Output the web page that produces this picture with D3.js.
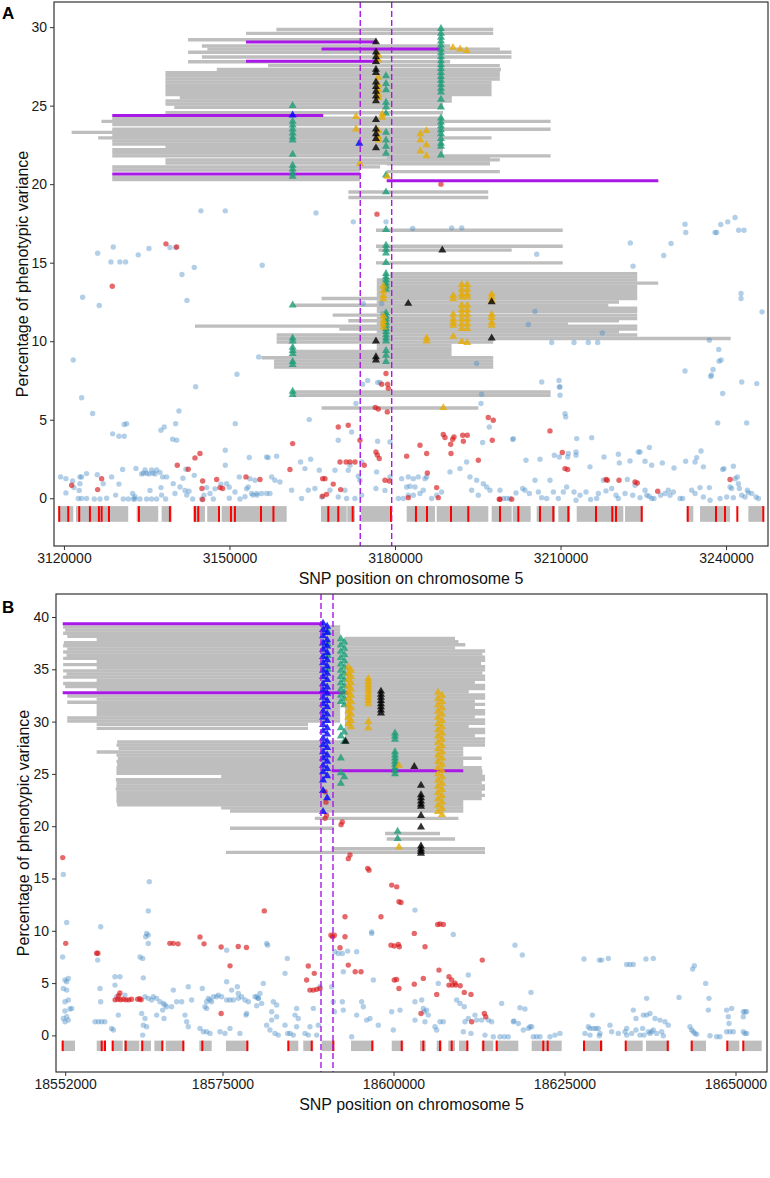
<!DOCTYPE html>
<html><head><meta charset="utf-8">
<script src="https://cdn.jsdelivr.net/npm/d3@7"></script>
<style>body{margin:0;background:#fff}text{font-family:"Liberation Sans",Arial,Helvetica,sans-serif}</style>
</head><body><script>
// ================= PANEL A DATA =================
const aXTicks=[3120000,3150000,3180000,3210000,3240000];
const aYTicks=[0,5,10,15,20,25,30];
const aDashed=[3173700,3179400];
// gray haplotype segments [start,end,pve]
const aSegs=[
[3158500,3197800,29.85],[3153000,3197800,29.6],[3142500,3176500,29.2],[3145000,3190000,28.8],[3146000,3199000,28.6],
[3142500,3201100,28.4],[3145000,3201100,28.1],[3142500,3190000,27.8],[3157000,3199000,27.55],[3147700,3199200,27.3],
[3138400,3199000,27.1],[3138400,3199000,26.9],[3138400,3199000,26.7],[3138400,3197500,26.5],[3138400,3197500,26.3],
[3138400,3197500,26.1],[3138400,3197500,25.9],[3138400,3197500,25.7],[3141000,3190300,25.5],[3138400,3190300,25.3],
[3138400,3188700,25.1],[3140000,3188700,24.9],[3138400,3188700,24.55],[3128760,3188700,24.2],[3126800,3208200,24.0],
[3128760,3188700,23.8],[3128760,3208200,23.5],[3121400,3188700,23.3],[3128760,3188700,23.1],[3126200,3197500,22.95],
[3128760,3188700,22.75],[3128760,3188700,22.55],[3138400,3188700,22.4],[3128760,3188700,22.2],[3128760,3188700,22.0],
[3128760,3208200,21.8],[3138400,3199000,21.55],[3138400,3197200,21.35],[3128760,3177300,21.1],[3128760,3173650,20.9],
[3128760,3173650,20.45],[3128760,3173650,20.3],[3178500,3197200,21.7],[3178500,3197200,21.3],[3178500,3199000,20.8],
[3171550,3196900,19.5],[3171550,3196900,19.15],[3176550,3210400,17.07],[3176550,3210400,16.05],[3177000,3201150,15.8],
[3176550,3210400,14.99],[3179100,3223900,14.3],[3179100,3223900,14.1],[3176700,3223900,13.9],[3176700,3227700,13.7],
[3176700,3223900,13.5],[3176700,3223900,13.3],[3176700,3223900,13.1],[3176700,3223900,12.9],[3166700,3223900,12.72],
[3176700,3220600,12.5],[3161570,3218660,12.29],[3176700,3223900,12.1],[3176700,3223900,11.9],[3168700,3223900,11.66],
[3176700,3223900,11.45],[3171530,3220600,11.3],[3176700,3211350,11.1],[3143750,3223900,10.96],[3169900,3223900,10.78],
[3176700,3220600,10.6],[3158550,3223900,10.4],[3158550,3240840,10.17],[3158550,3197800,9.95],[3176700,3190250,9.75],
[3176700,3190250,9.55],[3161270,3190250,9.35],[3161270,3190250,9.15],[3155800,3197800,8.95],[3158070,3197800,8.75],
[3158070,3197800,8.55],[3158070,3197800,8.35],[3161570,3208200,6.77],[3161570,3208200,6.56],[3166700,3195100,5.75]
];
const aMagenta=[[3153000,3176700,29.05],[3166700,3188150,28.6],[3153000,3176700,27.83],[3128760,3167000,24.38],[3128760,3173650,20.64],[3178490,3227720,20.21]];
const aBlue=[
[3144830,18.3],[3149240,18.3],[3126110,15.6],[3128940,16.0],[3128520,15.05],[3130150,15.05],[3131180,15.05],[3133470,15.5],[3135410,15.9],[3139210,15.97],[3140250,15.97],[3141390,14.25],[3143620,14.7],[3142300,12.6],[3123390,12.8],[3126400,12.27],[3121690,8.8],[3155300,9.0],[3151360,7.9],[3143870,7.1],
[3123210,6.4],[3125200,5.4],[3128830,4.1],[3129970,3.95],[3130930,3.95],[3130930,4.7],[3131360,4.75],[3137580,4.33],[3138180,4.54],[3140250,4.75],[3139700,3.76],[3140430,3.7],[3140840,5.56],[3151050,4.75],[3149240,3.06],[3149240,2.1],
[3134080,1.55],[3134700,1.8],[3135410,1.55],[3135900,1.8],[3136500,1.55],[3136800,1.8],[3137400,1.65],[3134400,1.6],[3135000,1.6],[3136100,1.6],
[3119400,1.36],[3120360,1.25],[3120360,0.34],[3121570,1.1],[3121810,0.68],[3122900,1.36],[3123200,1.36],[3122900,0.93],[3122770,0.5],[3122600,-0.02],[3123200,-0.02],[3124110,1.57],[3124110,-0.02],[3125500,-0.05],[3126530,-0.05],[3126040,1.5],[3127120,0.93],[3127740,0],[3128640,1.36],[3129370,0.2],[3129970,0.9],[3130630,1.83],[3130750,-0.05],[3131660,-0.05],[3132570,-0.05],[3132870,-0.05],[3133050,1.9],[3132450,0.3],[3132870,0.1],[3133780,-0.05],[3134990,-0.05],[3135890,-0.05],[3136800,-0.05],[3135590,0.5],[3137580,0.68],[3137890,1.36],[3138610,1.36],[3137700,0.2],[3138430,-0.05],[3139810,0.93],[3140120,0.3],[3141030,0.72],[3141570,1.27],[3142110,1.85],[3141930,0.5],[3142250,0.2],[3142660,0.45],[3143330,-0.05],[3143620,1.46],[3144960,-0.05],[3145380,0.2],[3145870,0.68],[3146470,0.3],[3147070,-0.05],[3147370,0.6],[3148460,0.9],[3149490,0.93],[3149970,0.7],[3149970,0],[3151000,0.4],[3151780,1.36],[3151900,-0.05],[3152810,0.1],[3153100,0.6],[3153400,0.72],[3153590,2.6],[3154260,0.2],[3154990,0.2],
[3165680,18.17],[3172440,17.6],[3178370,17.6],[3183200,17.18],[3190270,17.22],[3192090,17.22],[3155940,14.84],[3174250,12.4],[3177590,12.4],[3177770,11.76],[3194800,8.58],[3175050,7.5],[3174140,7.26],[3176860,7.37],[3177280,7.37],
[3205680,15.54],[3222650,16.26],[3223140,14.78],[3230030,16.22],[3228700,15.46],[3232560,17.45],[3232690,16.92],[3239030,17.43],[3240300,17.6],[3241630,17.88],[3238000,16.92],[3238300,16.92],[3242290,17.07],[3243260,17.07],[3242710,13.04],[3242710,12.72],[3246520,11.87],[3205370,11.9],[3204160,11.06],[3217570,10.53],[3208400,9.92],[3212440,9.92],[3215030,9.92],[3216730,9.92],[3236970,10.06],[3238670,9.47],[3238730,8.73],[3239100,8.8],[3237640,8.2],[3237340,7.85],[3237220,7.75],[3232560,8.1],[3206590,7.4],[3209720,7.5],[3209900,7.09],[3242840,7.4],[3245560,7.3],
[3195700,6.62],[3195580,6.03],[3164460,5.01],[3172920,6.03],[3169720,3.69],[3172140,4.22],[3176850,3.63],[3179090,3.59],[3197090,4.54],[3195880,3.55],[3157030,2.59],[3158540,2.68],[3162890,2.31],[3164710,2.48],[3166280,1.78],[3163680,1.89],[3169120,1.78],[3171840,2.1],[3171530,1.78],[3173950,2.31],[3173350,1.4],[3173650,1.15],[3176670,1.68],[3176550,0.62],[3178180,0.5],[3179090,1.36],
[3181200,1.25],[3182410,1.36],[3183320,1.25],[3184220,1.36],[3185430,1.25],[3185730,1.36],[3182110,0.72],[3182710,0.76],[3183620,0.72],[3180600,-0.02],[3181500,-0.02],[3182410,0.19],[3183320,0.19],[3184520,0.3],[3185130,0.51],[3186640,-0.02],[3187550,0.19],[3188450,0.4],[3189960,1.68],[3191770,1.89],[3192980,2.31],[3193590,1.36],[3193890,0.51],[3194800,1.15],[3195100,0.19],[3196000,0.93],[3196610,0.72],[3197210,0.51],
[3153710,1.25],[3154620,1.15],[3154010,0.3],[3154920,0.3],[3155820,0.3],[3156730,0.3],[3157340,0.3],[3156730,2.63],[3157640,1.36],[3158240,1.15],[3159150,1.04],[3161260,0.51],[3163070,-0.02],[3164280,0.51],[3165490,0.62],[3166700,0.08],[3168210,0.51],[3169720,0.08],[3170930,0.51],[3171230,-0.02],[3172740,-0.02],[3173950,0.19],
[3209780,7.09],[3209910,6.56],[3210810,5.39],[3210930,5.18],[3201450,3.8],[3201330,3.74],[3215650,3.86],[3212930,3.8],[3208880,2.74],[3209780,2.63],[3203740,2.42],[3206280,2.48],[3212810,2.95],[3212810,2.74],[3211420,2.85],[3211300,2.63],[3215340,2.0],[3217880,2.63],[3220480,2.8],[3220660,2.25],[3222590,2.38],[3224100,2.95],[3224410,2.95],[3226100,3.23],[3225310,2.36],[3226520,2.1],[3228450,2.25],[3230570,1.93],[3232680,2.36],[3234380,2.31],[3234680,2.59],[3235460,3.01],[3235890,2.0],[3236970,0.68],[3238480,4.8],[3239390,6.67],[3243740,4.8],[3239390,1.83],[3239630,1.89],[3241320,2.04],[3241630,1.25],[3242050,1.36],[3242230,0.93],[3242410,0.62],[3240720,0.72],[3241020,0.62],[3243860,0.51],[3244040,0.36],[3245860,-0.02],
[3199030,0.51],[3199630,-0.02],[3200240,-0.02],[3200840,-0.02],[3201930,0.34],[3203140,0.62],[3203560,0.51],[3204350,0.3],[3205370,1.15],[3205980,0.4],[3206580,0.04],[3207490,-0.02],[3208090,1.15],[3208700,0.4],[3209600,-0.02],[3210510,0.4],[3211110,0.72],[3212440,0.4],[3212810,-0.13],[3213530,0.19],[3214620,0.4],[3215460,-0.08],[3216550,-0.02],[3216850,0.3],[3217760,1.15],[3218240,0.47],[3219270,0.62],[3220060,0.19],[3220480,-0.02],[3221690,0.3],[3222110,1.19],[3223080,0.19],[3223500,0.83],[3224410,0.04],[3225310,0.51],[3225620,0.19],[3226040,0.13],[3226520,-0.02],[3226940,-0.02],[3228150,0.19],[3228940,0.3],[3229540,0.51],[3229840,0.19],[3230450,0.4],[3231660,-0.02],[3232140,-0.02],[3233770,0.51],[3234380,0.3],[3235280,0.68],[3235890,0.08],[3237090,-0.13],[3238910,-0.02],[3240120,0.08],[3241320,0.04],[3242830,0.19],[3243440,0.08],[3244640,0.3],[3245430,0.08]
];
const aRed=[
[3128760,13.5],[3138490,16.2],[3140430,16.0],[3121400,0.83],[3126830,1.25],[3126110,0.55],[3140540,2.1],[3142530,1.85],[3143750,2.57],[3144650,2.85],[3145140,1.1],[3145010,0.62],[3145140,-0.08],[3147680,1.19],[3148280,0.68],[3148760,0.62],[3152990,1.36],[3155530,1.19],
[3176730,18.09],[3178370,7.94],[3177590,7.26],[3178670,7.26],[3178790,7.0],[3188330,20.0],
[3160960,1.83],[3161450,3.48],[3169720,4.54],[3171530,4.65],[3173650,3.69],[3170030,2.31],[3171130,2.31],[3171840,2.31],[3172750,2.31],[3174430,2.1],[3166890,1.25],[3167310,1.25],[3168810,0.9],[3170150,0.55],[3166890,0.13],[3167590,0.25],[3176550,2.95],[3176800,2.75],[3177150,2.53],[3176430,5.78],[3176970,5.68],[3178600,5.5],[3178180,1.15],[3178960,1.1],[3182110,2.68],[3182410,0.04],[3184530,3.38],[3185740,2.85],[3185860,1.61],[3187550,0.68],[3187850,0.04],[3188750,4.06],[3189060,3.87],[3190150,2.85],[3190090,3.44],[3190450,3.76],[3190690,3.9],[3192270,4.01],[3193100,4.01],[3192390,3.63],[3195100,2.42],[3196910,5.14],[3197810,4.97],[3197630,3.69],[3198900,-0.06],
[3208090,4.29],[3210320,2.91],[3210810,1.89],[3211290,1.83],[3218240,1.19],[3218480,1.15],[3220600,1.15],[3223500,1.04],[3223910,0.97],[3227610,0.45],[3240720,1.19],[3201150,-0.06],[3199030,-0.06]
];
// triangle columns: [position, [pve...]]
const aTriGreen=[
[3188330,[29.9,29.6,29.35,29.1,28.85,28.6,28.35,28.1,27.85,27.6,27.35,27.1,26.85,26.6,26.35,26.1,25.85,25.4,24.9,24.2,23.95,23.7,23.45,23.2,22.9,22.6,22.4,21.85]],
[3161450,[25.0,24.0,23.75,23.5,23.25,23.0,22.8,21.9,21.2,20.95,20.7,20.5,12.3,10.2,10.0,9.6,9.4,9.2,8.7,8.5,6.8,6.6]],
[3178370,[26.9,26.4,26.0,25.2,24.9,24.5,23.3,22.8,22.4,21.96,20.57,19.5,17.1,16.1,15.85,15.6,15.0,14.3,14.1,13.9,13.7,13.5,13.3,11.8,11.6,11.4,11.2,11.0,10.8,10.6,10.4,10.2,10.0,9.4,9.1,8.7]]
];
const aTriBlack=[
[3176550,[29.05,28.4,28.1,27.8,27.3,27.1,26.5,26.2,25.9,25.6,25.3,24.1,23.5,23.2,22.9,22.3,10.0,9.0,8.8]],
[3182400,[12.4]],[3188570,[15.8]],[3197520,[12.5,10.2]]
];
const aTriYellow=[
[3177000,[28.2,27.9,26.8,26.3,26.0,25.7,25.5,23.4,23.0,22.8]],
[3177900,[13.5,13.2,12.9,12.7,11.6,11.3,11.1,10.9]],
[3190560,[12.9,12.7,11.7,11.4,11.2,11.0,10.3]],
[3192100,[13.6,13.3,13.0,12.8,12.3,12.0,11.7,11.4,11.1,10.8,9.97]],
[3193100,[13.6,13.3,13.0,12.8,12.3,12.0,11.7,11.4,11.1,10.8,9.9]],
[3197520,[13.0,12.8,12.6,11.7,11.5,11.2,11.0]],
[3185740,[10.2,10.0]],[3172930,[24.3,23.5]],[3177700,[24.45,24.25]],[3184600,[23.2,22.8,22.1]],[3185700,[23.4,22.5,21.8]],
[3190500,[28.7]],[3191800,[28.6]],[3193000,[28.5]],[3178600,[20.5]],[3173650,[21.3]],[3188750,[5.76]]
];
const aTriBlue=[[3173530,[22.6]],[3161450,[24.4]]];
const aGenes=[[3118970,3121690],[3122180,3131650],[3133180,3137090],[3137710,3139520],[3143440,3145560],[3145970,3148280],[3148590,3160370],[3166580,3171240],[3171350,3172750],[3173830,3179400],[3182120,3187250],[3187560,3196910],[3197520,3201150],[3201330,3204590],[3205680,3209000],[3209600,3211720],[3212930,3221380],[3221690,3224900],[3232870,3234070],[3235280,3240720],[3244040,3246880]];
const aExons=[3119150,3120780,3122770,3124710,3126340,3126830,3128160,3133590,3139210,3143740,3144340,3148100,3150270,3150990,3155710,3157970,3167910,3169720,3172330,3179270,3183800,3185800,3190150,3193280,3199030,3202350,3206280,3208690,3211410,3216430,3219380,3220050,3224710,3233050,3238180,3239810,3242040,3246750];

// ================= PANEL B DATA =================
const bXTicks=[18552000,18575000,18600000,18625000,18650000];
const bYTicks=[0,5,10,15,20,25,30,35,40];
const bDashed=[18589400,18591155];
const bSegs=[
[18551700,18592200,39.05],[18552000,18592200,38.75],[18551700,18592200,38.45],[18552300,18592200,38.15],[18556600,18592200,37.85],
[18551800,18592200,37.55],[18551700,18592200,37.25],[18552300,18592200,36.95],[18551700,18592200,36.65],[18552200,18592200,36.35],
[18551700,18592200,36.05],[18556600,18592200,35.75],[18551700,18592200,35.45],[18556600,18592200,35.15],[18551700,18592200,34.85],
[18552200,18592200,34.55],[18551700,18592200,34.25],[18556600,18592200,33.95],[18551700,18592200,33.65],[18552000,18592200,33.35],
[18556600,18592200,33.05],[18552300,18592200,32.45],[18556600,18592200,32.15],[18552300,18592200,31.85],[18556600,18592200,31.55],
[18556600,18592200,31.25],[18556600,18592200,30.95],[18556600,18592200,30.65],[18552300,18592200,30.35],[18552300,18592200,30.05],
[18556600,18587500,29.75],[18556600,18587500,29.35],
[18559600,18613380,28.05],[18559500,18613380,27.75],[18559800,18610200,27.45],[18556600,18610200,27.1],[18559500,18610200,26.8],
[18559700,18612900,26.5],[18559500,18610200,26.2],[18559600,18610200,25.9],[18559500,18612900,25.6],[18559500,18613000,25.3],
[18559500,18613000,25.05],[18574800,18613380,24.75],[18559400,18613380,24.45],[18559500,18612900,24.15],[18559500,18613380,23.85],
[18559400,18613380,23.55],[18559500,18612900,23.25],[18559500,18613380,22.95],[18559500,18612900,22.65],[18559500,18610200,22.35],
[18559600,18610200,22.05],[18574800,18610200,21.75],[18576100,18610200,21.45],[18588500,18609500,20.75],[18576100,18591300,19.8],
[18598760,18606800,19.3],[18599000,18609000,18.77],[18590960,18613380,17.85],[18575500,18613380,17.5],
[18592900,18608990,37.95],[18592900,18609500,37.65],[18592900,18610500,37.35],[18592900,18609000,37.05],[18592900,18613400,36.75],
[18592900,18613000,36.45],[18592900,18613400,36.15],[18592900,18613400,35.85],[18592900,18612800,35.55],[18592900,18613400,35.25],
[18592900,18613400,34.95],[18592900,18613000,34.65],[18592900,18613400,34.35],[18592900,18613400,34.05],[18592900,18611900,33.75],
[18592900,18613400,33.45],[18592900,18613400,33.15],[18592900,18611000,32.85],[18592900,18613400,32.55],[18592900,18613400,32.25],
[18592900,18611900,31.95],[18592900,18613400,31.65],[18592900,18611900,31.35],[18592900,18613400,31.05],[18592900,18613400,30.75],
[18592900,18611900,30.45],[18592900,18613400,30.15],[18592900,18613400,29.85],[18592900,18611000,29.55],[18592900,18613400,29.25],
[18592900,18613400,28.95],[18592900,18611900,28.65],[18592900,18613400,28.35]
];
const bMagenta=[[18551640,18589740,39.35],[18551640,18593390,32.75],[18590960,18610200,25.3]];
const bBlue=[
[18551730,15.39],[18552220,10.8],[18551630,7.5],[18551970,5.29],[18552460,5.45],[18552220,5.13],[18551730,4.49],[18552220,4.33],[18551970,3.22],[18552950,2.58],[18552460,3.38],[18552700,2.52],[18551970,2.33],[18552220,1.78],[18551730,1.62],[18551970,1.3],[18552460,1.46],
[18557190,10.38],[18556750,7.2],[18557090,4.49],[18557190,3.22],[18556360,1.3],[18556850,1.3],[18557330,1.3],[18557800,1.3],
[18559280,4.81],[18559280,5.6],[18560010,5.6],[18559770,1.94],[18558790,0.67],[18559040,0.51],[18559530,3.69],[18560740,3.85],[18563420,5.5],[18562940,7.5],[18563330,7.36],[18564300,14.7],[18564150,11.9],[18563910,9.75],[18564150,9.59],[18563770,9.43],[18564150,8.79],[18563670,3.69],[18564150,3.54],[18564640,3.38],[18563180,2.1],[18563420,0.98],[18563910,0.83],[18563670,1.62],[18563330,0.03],
[18564890,3.69],[18565370,3.54],[18565860,3.22],[18566350,3.06],[18566590,2.9],[18565370,1.94],[18566250,2.42],[18566450,1.62],[18566840,2.74],[18567810,4.33],[18568300,3.22],[18569030,3.22],[18567570,2.74],[18569520,1.94],[18569760,1.3],[18570000,0.83],[18570000,4.65],[18570490,3.38],[18572050,4.49],[18571710,0.67],[18572200,0.35],[18572680,0.35],[18573170,0.19],[18572680,3.22],[18572930,3.54],[18573170,3.38],[18573410,3.22],[18572440,2.74],[18572680,2.58],[18573660,3.69],[18574140,3.69],
[18574390,3.85],[18574880,3.69],[18575610,3.38],[18576090,3.38],[18576580,3.38],[18577310,3.54],[18577800,3.69],[18578290,3.38],[18578780,3.22],[18575610,8.15],[18575610,5.13],[18576340,4.33],[18577170,4.65],[18577310,4.01],[18574630,0.35],[18575360,0.19],[18576090,0.67],[18577550,0.19],[18578530,2.1],[18578430,1.94],[18580000,3.69],[18580240,3.54],
[18603140,11.98],[18596810,9.9],[18596810,9.75],[18581460,8.79],[18581600,8.63],[18608740,9.65],[18617760,8.63],[18591450,7.99],[18591930,7.83],[18592520,7.83],[18593300,8.06],[18594610,7.99],[18584480,7.36],[18584140,5.93],[18592660,6.08],[18597050,5.29],[18606550,4.97],[18610940,5.77],[18589250,4.65],[18590960,4.65],
[18580970,4.97],[18580480,4.01],[18580240,3.54],[18579750,3.69],[18580720,3.06],[18579990,2.83],[18582430,3.22],[18582920,2.9],[18582190,2.26],[18582920,1.78],[18582190,1.46],[18581460,0.98],[18581940,0.51],[18582670,0.19],[18583160,0.03],[18584140,0.98],[18584530,0.19],[18584870,0.19],[18585350,0.03],[18585600,1.94],[18585840,2.58],[18586080,1.62],[18585840,0.83],[18587060,0.19],[18587550,0.03],[18587790,0.83],[18588280,2.58],[18589010,0.98],[18588770,0.03],
[18591200,3.22],[18592520,3.22],[18591350,2.26],[18592660,2.42],[18593880,-0.13],[18595340,3.22],[18595590,2.74],[18594610,1.94],[18596070,1.46],[18596560,1.62],[18597780,0.98],[18599730,2.26],[18600950,2.42],[18599970,0.51],
[18603140,3.22],[18604120,3.38],[18604360,2.58],[18604500,2.26],[18604840,2.42],[18605090,1.94],[18603140,1.46],[18604600,1.3],[18606060,0.83],[18606310,0.51],[18606800,1.3],[18607280,1.3],
[18609230,3.38],[18609720,3.06],[18610350,2.74],[18610450,1.3],[18610940,1.62],[18611910,1.94],[18612160,1.46],[18612890,1.46],[18613860,1.46],[18614350,1.3],[18610210,0.35],[18611330,0.19],[18613370,0.03],[18614590,-0.13],[18615570,-0.13],[18616200,-0.13],[18616780,-0.13],[18615810,3.06],[18617520,1.3],
[18618830,7.68],[18627850,7.3],[18630090,7.2],[18630430,7.2],[18631410,7.36],[18634090,6.78],[18634570,6.78],[18635060,6.78],[18636910,7.3],[18637980,7.36],[18643980,6.66],[18643730,6.34],[18645640,4.97],[18646120,3.54],[18646020,2.42],[18620100,4.11],[18641740,3.63],[18637010,3.54],[18618490,2.64],[18619220,2.52],
[18617610,1.37],[18618250,1.14],[18618980,0.51],[18619710,0.67],[18619950,0.83],[18620200,0.83],[18620440,-0.13],[18620930,-0.13],[18621420,-0.13],[18622880,-0.13],[18623610,0.03],[18624340,0.19],[18629070,1.94],[18628480,0.83],[18628730,0.67],[18629210,0.67],[18629600,0.67],[18629940,0.67],[18627990,0.19],[18628730,0.03],[18630190,0.19],[18630090,-0.03],
[18631650,0.98],[18631890,0.35],[18632870,0.19],[18633840,0.35],[18634090,0.03],[18634820,0.19],[18635450,0.51],[18636030,0.03],[18636420,0.67],[18636620,0.03],[18637250,0.35],[18637500,0.19],[18637740,0.35],[18637980,0.51],[18638470,0.19],[18639200,0.35],[18639450,-0.03],[18640180,0.98],[18639690,1.3],[18638960,1.46],[18638230,1.62],[18637500,2.1],[18637010,1.94],[18636520,1.94],[18635450,1.62],[18635060,2.42],[18634090,0.67],
[18643340,0.83],[18643590,0.51],[18643830,0.35],[18644080,0.19],[18644320,0.1],[18646270,-0.03],[18647240,-0.13],[18647730,-0.13],[18648700,2.42],[18649440,2.58],[18648950,1.78],[18649050,1.14],[18648700,0.35],[18649190,0.35],[18649680,0.35],[18651140,2.26],[18651380,2.26],[18651630,2.26],[18651140,1.78],[18651140,0.35],[18651380,0.19],[18651630,0.19]
];
const bRed=[
[18551640,17.0],[18552080,8.8],[18556600,7.85],[18556780,7.85],
[18559300,3.4],[18559700,3.45],[18560100,3.4],[18560500,3.45],[18560900,3.4],[18561300,3.4],[18561700,3.45],[18562600,3.45],[18562900,3.5],[18563100,3.4],[18559800,3.8],[18560000,4.05],
[18567300,8.8],[18567800,8.8],[18568500,8.75],[18571710,9.4],[18572300,8.75],[18574800,8.45],[18576100,6.65],[18577300,8.5],[18578500,8.4],[18574800,2.1],
[18589990,23.3],[18590130,22.3],[18590220,21.06],[18589990,20.75],[18592510,20.4],[18592330,20.15],[18593640,17.24],[18593390,16.9],[18596230,15.97],[18596420,15.8],[18599740,14.37],[18600470,14.2],[18600800,12.78],[18601100,12.7],[18581110,11.9],[18592910,11.34],[18598170,11.34],[18606460,10.6],[18606800,10.65],[18607280,10.6],[18590860,9.58],[18591350,9.58],[18591100,9.43],[18592910,9.43],[18599630,8.63],[18600120,8.55],[18600700,8.7],[18600850,8.47],[18603040,9.75],[18604610,8.47],[18612980,7.2],[18592180,8.38],[18593390,6.72],[18594400,6.08],[18595250,6.08],[18606650,6.24],[18587540,6.63],[18588420,5.93],[18587300,5.29],[18587780,4.33],[18588280,4.33],[18588770,4.4],[18589250,4.49],[18600110,5.29],[18600450,5.35],[18600800,4.49],[18603040,4.9],[18604360,5.45],[18606320,3.92],[18608110,4.81],[18608600,4.81],[18609100,4.81],[18609750,4.75],[18608110,5.6],[18608500,5.29],[18608990,5.0],[18610350,4.11],[18611330,3.92],[18604020,2.1],[18613280,2.1],[18613480,1.78],[18611430,1.3]
];
const bTriBlue=[
[18589700,[39.4,38.8,38.2,37.5,36.9,36.2,35.6,34.9,34.3,33.6,33.0,32.3,31.7,31.0,30.4,29.7,29.1,28.4,27.8,27.1,26.5,25.8,25.2,24.4,23.4,21.4]],
[18590300,[39.1,38.5,37.8,37.2,36.6,35.9,35.3,34.6,34.0,33.3,32.7,32.0,31.4,30.7,30.1,29.4,28.8,28.1,27.5,26.8,26.2,25.5,24.8,22.7]]
];
const bTriGreen=[
[18592300,[37.9,37.3,36.7,36.1,35.5,34.9,34.3,33.7,33.1,32.5,31.9,29.4,28.6,26.5,25.1,24.1]],
[18592800,[37.6,37.0,36.4,35.8,35.2,34.6,34.0,33.4,32.8,32.2,31.6,29.0,28.1,24.7]],
[18590400,[38.6,37.4,36.3,35.0]],
[18600220,[28.9,28.6,28.3,27.1,26.8,26.5,26.2,25.9,25.6,25.3,25.0]],
[18600600,[19.5,18.8]]
];
const bTriYellow=[
[18593400,[35.2,34.6,34.0,33.4,32.8,32.2,31.6,31.0,30.4,29.8]],
[18593800,[34.9,34.3,33.7,33.1,32.5,31.9,31.3,30.7,30.1,29.5]],
[18596320,[34.1,33.8,33.5,33.2,32.9,32.6,32.3,32.0,31.7,30.0,29.4]],
[18600800,[25.8,18.0]],
[18606500,[32.8,32.2,31.6,31.0,30.4,29.8,29.2,28.6,28.0,27.4,26.8,26.2,25.6,25.0,24.4,23.8,23.2,22.6,22.0,21.4]],
[18607100,[32.5,31.9,31.3,30.7,30.1,29.5,28.9,28.3,27.7,27.1,26.5,25.9,25.3,24.7,24.1,23.5,22.9,22.3,21.7,21.1]]
];
const bTriBlack=[
[18598170,[32.9,32.6,32.3,32.0,31.7,31.4,31.1,30.8]],
[18604020,[23.9,23.0,22.7,22.4,22.1,21.9,21.0,19.9,18.1,17.8,17.6,17.4]],
[18603040,[25.7]],[18593000,[28.1]]
];
const bGenes=[[18551490,18553440],[18556610,18557970],[18558800,18560410],[18560600,18562840],[18563040,18564540],[18565040,18566340],[18566690,18569420],[18571610,18573420],[18575510,18578770],[18584620,18586080],[18586810,18588270],[18589500,18591340],[18593790,18597050],[18599740,18601430],[18603870,18604710],[18606320,18607050],[18608010,18608990],[18609580,18610940],[18612890,18614590],[18614940,18618250],[18620200,18624590],[18627750,18630590],[18633850,18636430],[18636920,18640320],[18643450,18645690],[18648710,18650560],[18651050,18653830]];
const bExons=[18551640,18557340,18557820,18558950,18560850,18563270,18566200,18569270,18572050,18578630,18584620,18588040,18591200,18596900,18601200,18604360,18606800,18608510,18610790,18613130,18615090,18621900,18622540,18627850,18630340,18633950,18640090,18643600,18648800,18651140];

// ================= DRAWING =================
const W=770,H=1178;
const svg=d3.select('body').append('svg').attr('width',W).attr('height',H);
const COL={gray:'#bebebe',purple:'#a818e6',blue:'#4a8cc6',red:'#d7191c',green:'#1b9e77',yellow:'#e6ab02',black:'#000000',tblue:'#0000ff',exon:'#ff0000'};
const flat=cols=>cols.flatMap(c=>c[1].map(v=>[c[0],v]));

function drawPanel(o){
  const x=d3.scaleLinear().domain(o.xDomain).range([o.left,o.right]);
  const y=d3.scaleLinear().domain(o.yDomain).range([o.bottom,o.top]);
  const cid='clip'+o.label;
  svg.append('clipPath').attr('id',cid).append('rect')
    .attr('x',o.left).attr('y',o.top).attr('width',o.right-o.left).attr('height',o.bottom-o.top);
  const p=svg.append('g').attr('clip-path',`url(#${cid})`);
  p.append('g').selectAll('line').data(o.segs).join('line')
    .attr('x1',d=>x(d[0])).attr('x2',d=>x(d[1])).attr('y1',d=>y(d[2])).attr('y2',d=>y(d[2]))
    .attr('stroke',COL.gray).attr('stroke-width',o.segW);
  p.append('g').selectAll('rect').data(o.genes).join('rect')
    .attr('x',d=>x(d[0])).attr('width',d=>x(d[1])-x(d[0])).attr('y',y(-0.5)).attr('height',y(-1.5)-y(-0.5))
    .attr('fill',COL.gray);
  p.append('g').selectAll('line').data(o.exons).join('line')
    .attr('x1',d=>x(d)).attr('x2',d=>x(d)).attr('y1',y(-0.5)).attr('y2',y(-1.5))
    .attr('stroke',COL.exon).attr('stroke-width',2);
  p.append('g').selectAll('circle').data(o.blue).join('circle')
    .attr('cx',d=>x(d[0])).attr('cy',d=>y(d[1])).attr('r',2.7)
    .attr('fill',COL.blue).attr('fill-opacity',0.42);
  p.append('g').selectAll('circle').data(o.red).join('circle')
    .attr('cx',d=>x(d[0])).attr('cy',d=>y(d[1])).attr('r',2.7)
    .attr('fill',COL.red).attr('fill-opacity',0.65);
  p.append('g').selectAll('line').data(o.magenta).join('line')
    .attr('x1',d=>x(d[0])).attr('x2',d=>x(d[1])).attr('y1',d=>y(d[2])).attr('y2',d=>y(d[2]))
    .attr('stroke',COL.purple).attr('stroke-width',3);
  const tri=d3.symbol().type(d3.symbolTriangle).size(28);
  [['green',o.triGreen],['yellow',o.triYellow],['black',o.triBlack],['tblue',o.triBlue]].forEach(([c,cols])=>{
    p.append('g').selectAll('path').data(flat(cols)).join('path')
      .attr('d',tri).attr('transform',d=>`translate(${x(d[0])},${y(d[1])})`)
      .attr('fill',COL[c]).attr('fill-opacity',0.8);
  });
  p.append('g').selectAll('line').data(o.dashed).join('line')
    .attr('x1',d=>x(d)).attr('x2',d=>x(d)).attr('y1',o.top).attr('y2',o.bottom)
    .attr('stroke',COL.purple).attr('stroke-width',1.4).attr('stroke-dasharray','6,3');
  svg.append('rect').attr('x',o.left).attr('y',o.top).attr('width',o.right-o.left).attr('height',o.bottom-o.top)
    .attr('fill','none').attr('stroke','#333').attr('stroke-width',1.2);
  const ax=svg.append('g').attr('transform',`translate(0,${o.bottom})`)
    .call(d3.axisBottom(x).tickValues(o.xTicks).tickFormat(d3.format('d')).tickSize(4).tickPadding(3));
  const ay=svg.append('g').attr('transform',`translate(${o.left},0)`)
    .call(d3.axisLeft(y).tickValues(o.yTicks).tickSize(4).tickPadding(3));
  [ax,ay].forEach(a=>{a.select('.domain').remove();a.selectAll('line').attr('stroke','#333');
    a.selectAll('text').attr('fill','#1a1a1a').style('font-size','14px').style('font-family','"Liberation Sans",Arial,sans-serif');});
  svg.append('text').attr('x',(o.left+o.right)/2).attr('y',o.xTitleY).attr('text-anchor','middle')
    .style('font-size','16px').attr('fill','#111').text('SNP position on chromosome 5');
  svg.append('text').attr('transform',`translate(${o.yTitleX},${(o.top+o.bottom)/2}) rotate(-90)`).attr('text-anchor','middle')
    .style('font-size','16px').attr('fill','#111').text('Percentage of phenotypic variance');
  svg.append('text').attr('x',2).attr('y',o.labelY).style('font-size','17px').style('font-weight','bold').attr('fill','#000').text(o.label);
}

drawPanel({label:'A',left:54,right:768,top:2,bottom:546,xDomain:[3118200,3247600],yDomain:[-3.04,31.6],
  xTicks:aXTicks,yTicks:aYTicks,segs:aSegs,segW:3.4,magenta:aMagenta,dashed:aDashed,blue:aBlue,red:aRed,
  triGreen:aTriGreen,triYellow:aTriYellow,triBlack:aTriBlack,triBlue:aTriBlue,genes:aGenes,exons:aExons,
  xTitleY:584,yTitleX:28,labelY:19});
drawPanel({label:'B',left:56,right:767,top:594,bottom:1072,xDomain:[18550658,18654605],yDomain:[-3.5,42.2],
  xTicks:bXTicks,yTicks:bYTicks,segs:bSegs,segW:3.4,magenta:bMagenta,dashed:bDashed,blue:bBlue,red:bRed,
  triGreen:bTriGreen,triYellow:bTriYellow,triBlack:bTriBlack,triBlue:bTriBlue,genes:bGenes,exons:bExons,
  xTitleY:1110,yTitleX:29,labelY:613});
</script></body></html>
